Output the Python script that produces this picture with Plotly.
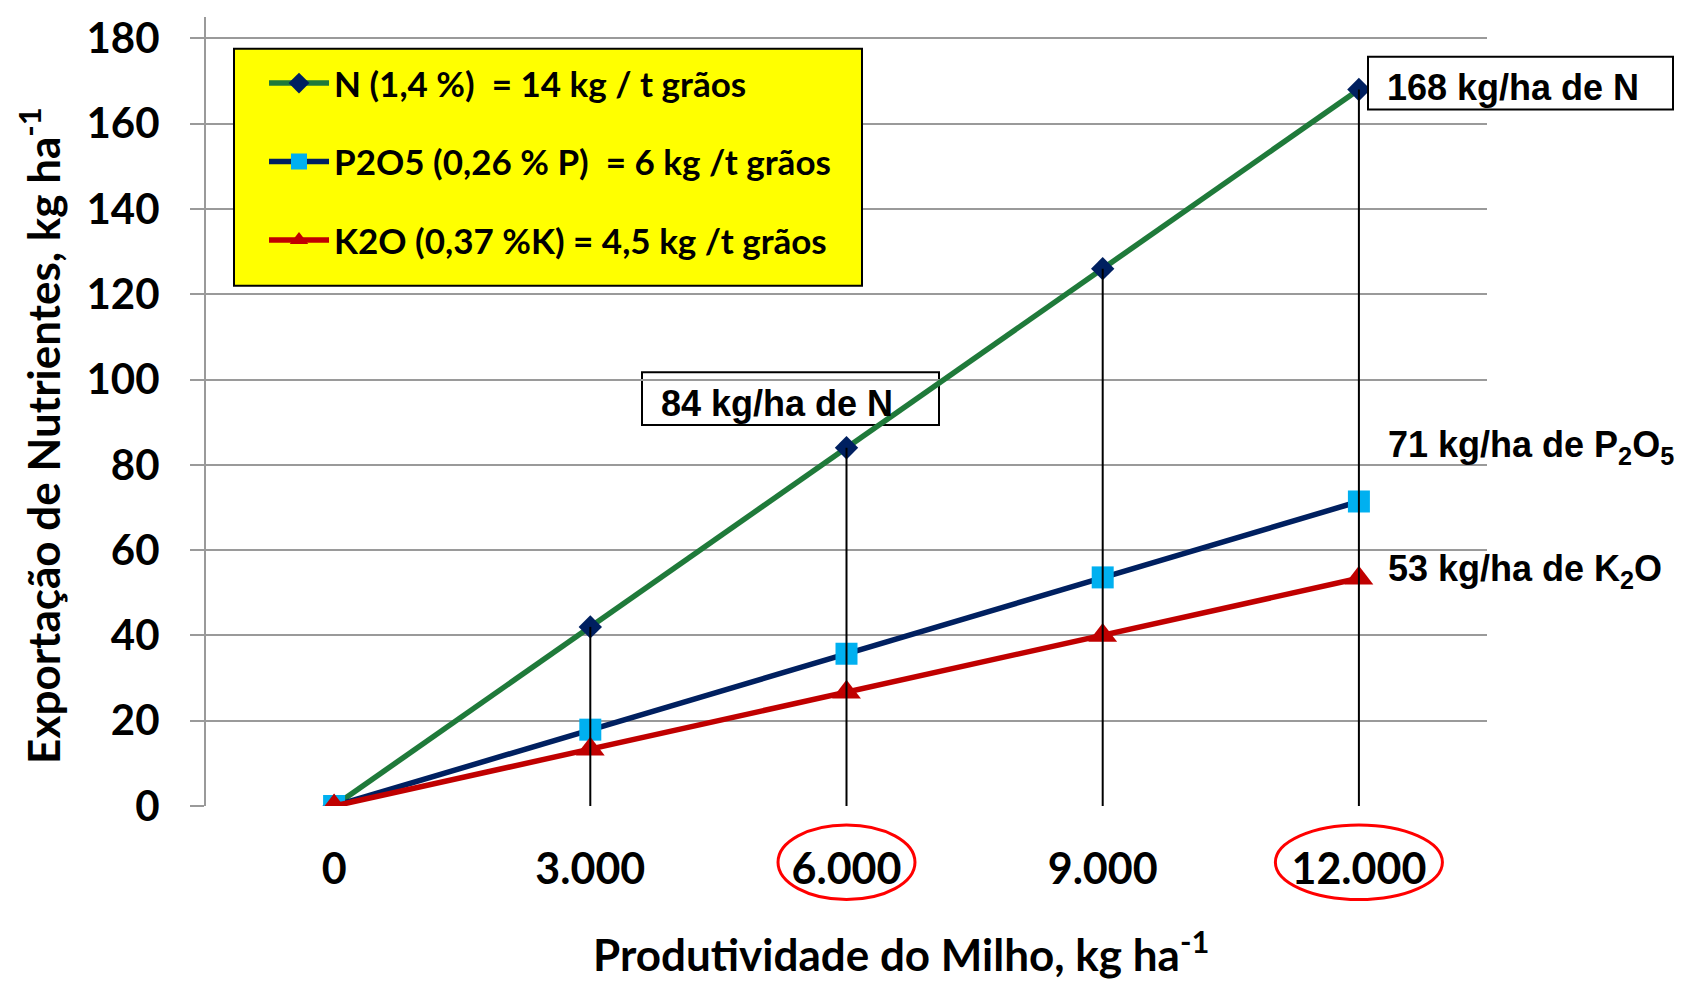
import plotly.graph_objects as go

# Grain yield (kg/ha) and nutrient export (kg/ha)
produtividade = [0, 3000, 6000, 9000, 12000]
tick_labels = ["0", "3.000", "6.000", "9.000", "12.000"]
exp_N = [0, 42, 84, 126, 168]
exp_P2O5 = [0, 17.9, 35.7, 53.6, 71.4]
exp_K2O = [0, 13.3, 26.7, 40.0, 53.4]

nomes = [
    "N (1,4 %)  = 14 kg / t grãos",
    "P2O5 (0,26 % P)  = 6 kg /t grãos",
    "K2O (0,37 %K) = 4,5 kg /t grãos",
]
destaques = [6000, 12000]

# plot-area geometry in pixels (used to place boxes/labels)
W, H = 1688, 984
L, R, T, B = 206, 1487, 13, 806


def px(xp):
    return (xp - L) / (R - L)


def py(yp):
    return (B - yp) / (B - T)


LABEL_FONT = dict(family="Liberation Sans, Arial", size=36, color="black", weight="bold")
AXIS_FONT = dict(family="Lato", size=44, color="black", weight="bold")

fig = go.Figure()

fig.add_trace(go.Scatter(
    x=produtividade, y=exp_N, name=nomes[0], legendgroup="n", mode="lines+markers",
    line=dict(color="#1F7A3A", width=5.5),
    marker=dict(symbol="diamond", size=18, color="#002060"),
))
fig.add_trace(go.Scatter(
    x=produtividade, y=exp_P2O5, name=nomes[1], legendgroup="p", mode="lines+markers",
    line=dict(color="#002060", width=5.5),
    marker=dict(symbol="square", size=22, color="#00B0F0"),
))
fig.add_trace(go.Scatter(
    x=produtividade, y=exp_K2O, name=nomes[2], legendgroup="k", mode="lines+markers",
    line=dict(color="#C00000", width=5.5),
    marker=dict(symbol="triangle-up", size=25, color="#C00000"),
))

# drop lines from the N points down to the axis
for xv, yv in zip(produtividade[1:], exp_N[1:]):
    fig.add_trace(go.Scatter(
        x=[xv, xv], y=[0, yv], mode="lines", showlegend=False, hoverinfo="skip",
        line=dict(color="black", width=2),
    ))

shapes = []
annotations = []

# yellow legend panel
shapes.append(dict(type="rect", xref="paper", yref="paper",
                   x0=px(234), x1=px(862), y0=py(283), y1=py(45),
                   line=dict(color="black", width=2), fillcolor="#FFFF00", layer="above"))

# boxed labels for N
n_mid, n_max = exp_N[2], exp_N[-1]
shapes.append(dict(type="rect", xref="paper", yref="paper",
                   x0=px(642), x1=px(939), y0=py(423), y1=py(370),
                   line=dict(color="black", width=2), fillcolor="white", layer="below"))
annotations.append(dict(xref="paper", yref="paper", x=px(659), y=py(401.5),
                        xanchor="left", yanchor="middle", showarrow=False,
                        text=f"{n_mid:.0f} kg/ha de N", font=LABEL_FONT))
shapes.append(dict(type="rect", xref="paper", yref="paper",
                   x0=px(1368), x1=px(1673), y0=py(106), y1=py(53),
                   line=dict(color="black", width=2), fillcolor="white"))
annotations.append(dict(xref="paper", yref="paper", x=px(1385), y=py(84.2),
                        xanchor="left", yanchor="middle", showarrow=False,
                        text=f"{n_max:.0f} kg/ha de N", font=LABEL_FONT))

# plain labels for P2O5 and K2O
annotations.append(dict(xref="paper", yref="paper", x=px(1386), y=py(445.5),
                        xanchor="left", yanchor="middle", showarrow=False,
                        text=f"{exp_P2O5[-1]:.0f} kg/ha de P<sub>2</sub>O<sub>5</sub>",
                        font=LABEL_FONT))
annotations.append(dict(xref="paper", yref="paper", x=px(1386), y=py(570),
                        xanchor="left", yanchor="middle", showarrow=False,
                        text=f"{exp_K2O[-1]:.0f} kg/ha de K<sub>2</sub>O",
                        font=LABEL_FONT))

# axis titles
annotations.append(dict(xref="paper", yref="paper", x=px(901), y=py(952),
                        xanchor="center", yanchor="middle", showarrow=False,
                        text="Produtividade do Milho, kg ha<sup>-1</sup>", font=AXIS_FONT))
annotations.append(dict(xref="paper", yref="paper", x=px(40), y=py(434),
                        xanchor="center", yanchor="middle", showarrow=False, textangle=-90,
                        text="Exportação de Nutrientes, kg ha<sup>-1</sup>", font=AXIS_FONT))

# red ellipses around highlighted tick labels
half_w = {6000: 802, 12000: 978}
for xv in destaques:
    shapes.append(dict(type="circle", xref="x", yref="paper",
                       x0=xv - half_w[xv], x1=xv + half_w[xv], y0=py(900), y1=py(825),
                       line=dict(color="#FF0000", width=3)))

fig.update_layout(
    width=W, height=H,
    margin=dict(l=L, r=W - R, t=T, b=H - B),
    paper_bgcolor="white", plot_bgcolor="white",
    showlegend=True,
    legend=dict(
        x=px(264), y=py(50), xanchor="left", yanchor="top",
        bgcolor="rgba(0,0,0,0)", borderwidth=0,
        font=dict(family="Lato", size=35, color="black", weight="bold"),
        tracegroupgap=30, itemwidth=60,
    ),
    shapes=shapes,
    annotations=annotations,
    xaxis=dict(
        range=[-1500, 13500], tickmode="array", tickvals=produtividade, ticktext=tick_labels,
        showgrid=False, zeroline=False, showline=False, ticks="",
        tickfont=dict(family="Lato", size=43, color="black", weight="bold"),
        ticklabelstandoff=34,
    ),
    yaxis=dict(
        range=[0, 185], tickmode="array", tickvals=list(range(0, 181, 20)),
        showgrid=True, gridcolor="#9A9A9A", gridwidth=2,
        zeroline=False, showline=True, linecolor="#9A9A9A", linewidth=2,
        ticks="outside", ticklen=14, tickcolor="#9A9A9A", tickwidth=2,
        tickfont=dict(family="Lato", size=42, color="black", weight="bold"),
        ticklabelstandoff=22,
    ),
)

fig.write_html("out.html")
